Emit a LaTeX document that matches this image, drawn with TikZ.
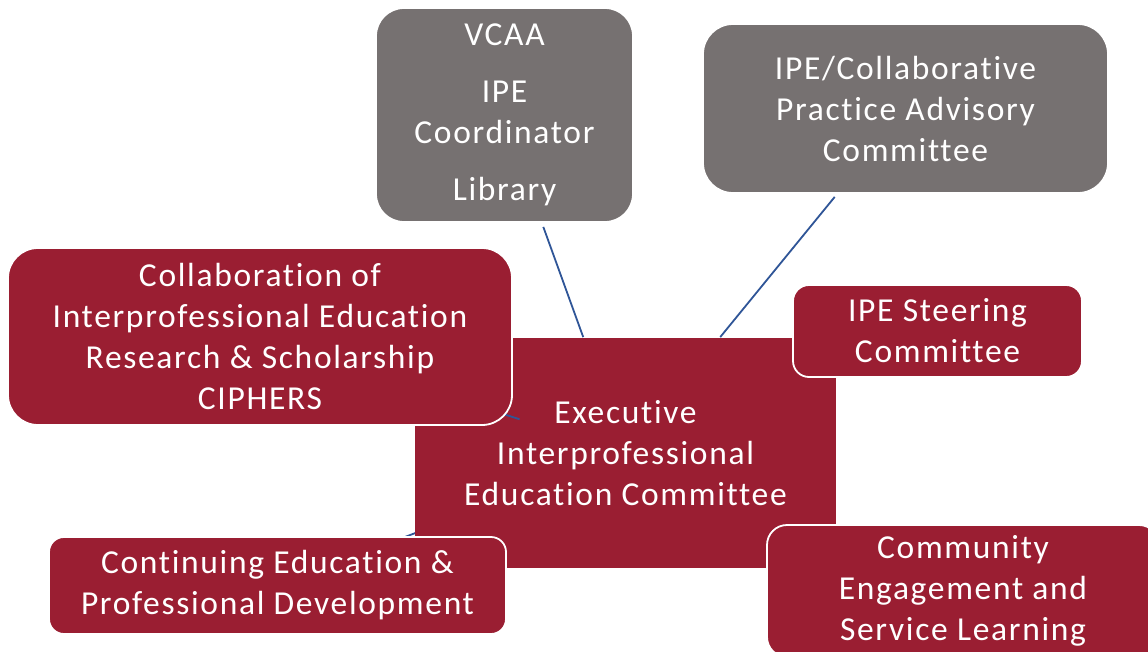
\documentclass[tikz,border=0pt]{standalone}
\usepackage{fontspec}
\setmainfont{Carlito}[Ligatures=NoCommon, LetterSpace=5]
\usetikzlibrary{calc}
\definecolor{boxred}{RGB}{154,30,50}
\definecolor{boxgray}{RGB}{118,113,113}
\definecolor{linkblue}{RGB}{47,85,151}
\tikzset{
  unitbox/.style={draw=white, line width=1.8pt, text=white, align=center,
    inner sep=0pt, font=\fontsize{33.5}{41}\selectfont},
  redbox/.style={unitbox, fill=boxred},
  graybox/.style={unitbox, fill=boxgray},
  link/.style={draw=linkblue, line width=1.8pt}
}
\begin{document}
\begin{tikzpicture}[x=1pt, y=-1pt]
\useasboundingbox (0,0) rectangle (1148,651);
\clip (0,0) rectangle (1148,651);

% lower-left connector runs beneath the central box
\coordinate (contc) at (277.5,585.5);
\coordinate (execc) at (625.5,453);
\draw[link] (contc) -- (execc);

% central committee
\node[redbox, draw=none, minimum width=421pt, minimum height=230pt] (exec) at (execc)
  {Executive\\Interprofessional\\Education Committee};

% connectors to the surrounding groups
\coordinate (cipc) at (260,336.5);
\draw[link] (cipc) -- ($(cipc)!0.71!(exec.center)$);

\node[graybox, rounded corners=28pt, minimum width=257pt, minimum height=214pt] (vcaa) at (504.5,115)
  {VCAA\\[16pt]IPE\\Coordinator\\[16pt]Library};
\node[graybox, rounded corners=30pt, minimum width=405pt, minimum height=169pt] (advisory) at (905.5,108.5)
  {IPE/Collaborative\\Practice Advisory\\Committee};

\draw[link] ($(vcaa.south west)!0.65!(vcaa.south east)+(0,4)$) -- ($(exec.north west)!0.40!(exec.north east)$);
\draw[link] ($(advisory.south west)!0.326!(advisory.south east)+(0,3)$) -- ($(exec.north west)!0.724!(exec.north east)$);

% surrounding groups
\node[redbox, rounded corners=30pt, minimum width=504pt, minimum height=177pt] (cip) at (cipc)
  {Collaboration of\\Interprofessional Education\\Research \& Scholarship\\CIPHERS};
\node[redbox, rounded corners=16pt, minimum width=289pt, minimum height=92pt] (steer) at (937.5,331)
  {IPE Steering\\Committee};
\node[redbox, rounded corners=20pt, minimum width=392pt, minimum height=132pt] (community) at (963,591)
  {Community\\Engagement and\\Service Learning};
\node[redbox, rounded corners=15pt, minimum width=457pt, minimum height=97pt] (cont) at (contc)
  {Continuing Education \&\\Professional Development};
\end{tikzpicture}
\end{document}
